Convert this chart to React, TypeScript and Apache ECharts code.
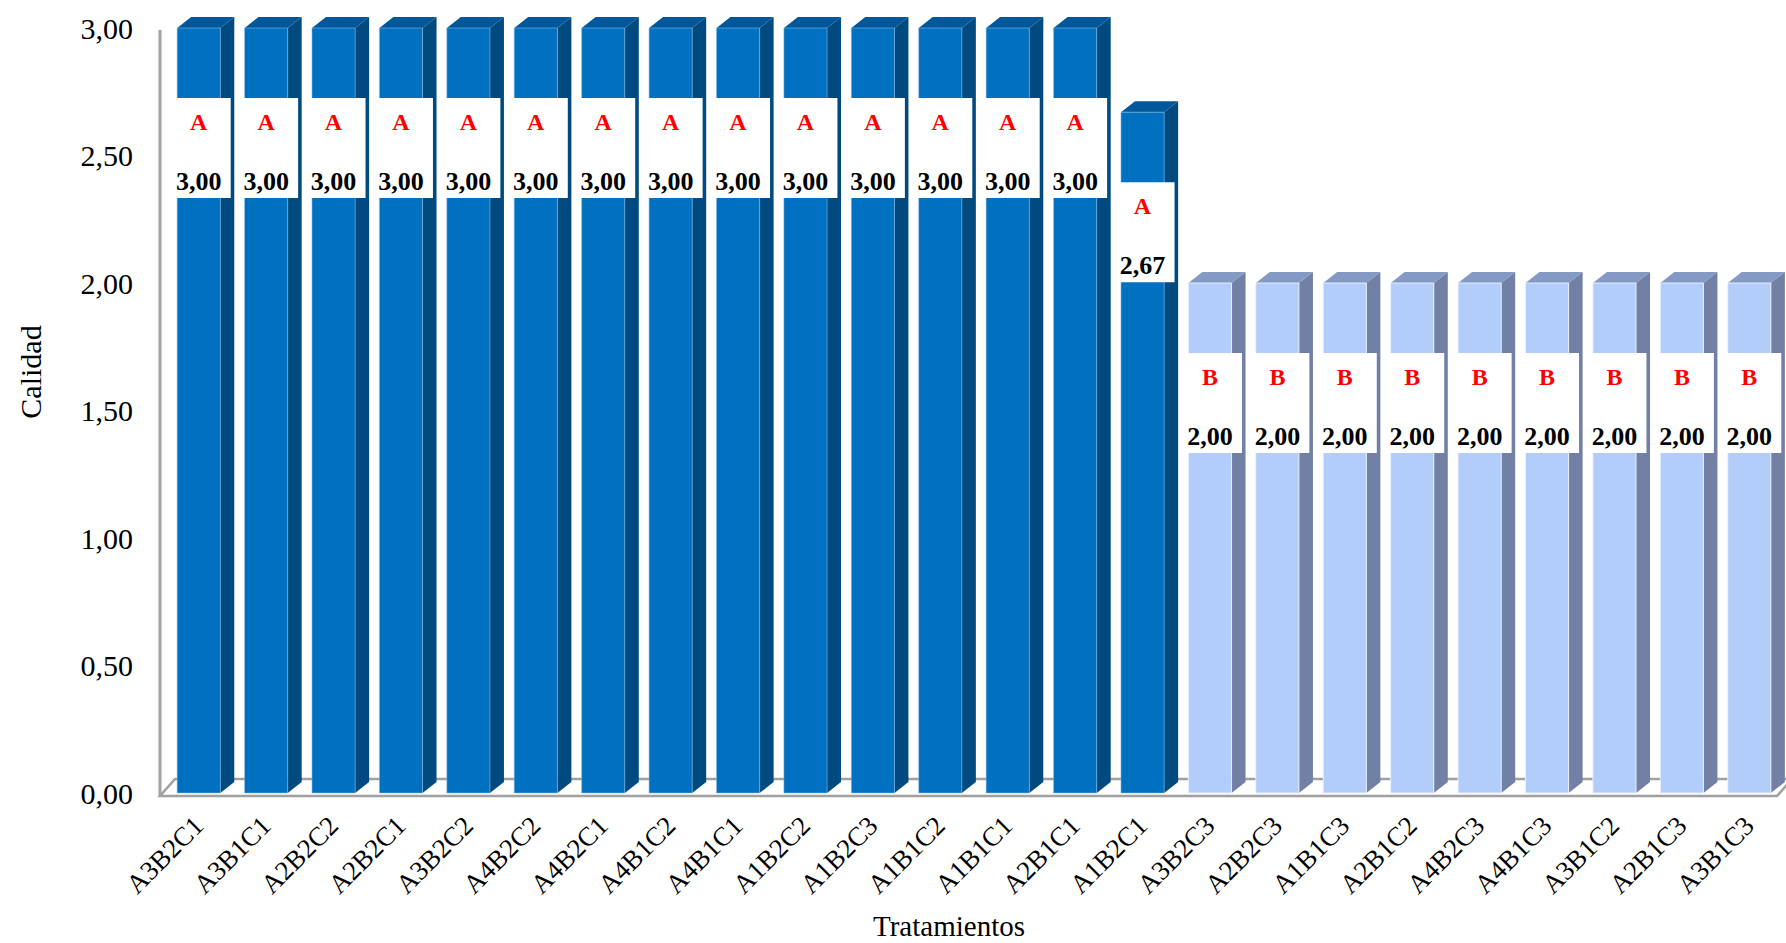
import React, { useEffect, useRef } from "react";
import * as echarts from "echarts";

// Tratamientos (orden de la gráfica)
const categories = [
  "A3B2C1", "A3B1C1", "A2B2C2", "A2B2C1", "A3B2C2", "A4B2C2", "A4B2C1", "A4B1C2",
  "A4B1C1", "A1B2C2", "A1B2C3", "A1B1C2", "A1B1C1", "A2B1C1", "A1B2C1", "A3B2C3",
  "A2B2C3", "A1B1C3", "A2B1C2", "A4B2C3", "A4B1C3", "A3B1C2", "A2B1C3", "A3B1C3",
];

// Calidad media por tratamiento
const values = [
  3.0, 3.0, 3.0, 3.0, 3.0, 3.0, 3.0, 3.0, 3.0, 3.0, 3.0, 3.0, 3.0, 3.0, 2.67,
  2.0, 2.0, 2.0, 2.0, 2.0, 2.0, 2.0, 2.0, 2.0,
];

// Grupos de significancia (Tukey)
const groups = [
  "A", "A", "A", "A", "A", "A", "A", "A", "A", "A", "A", "A", "A", "A", "A",
  "B", "B", "B", "B", "B", "B", "B", "B", "B",
];

const yTicks = [0, 0.5, 1, 1.5, 2, 2.5, 3];

const SERIF = "'Liberation Serif', 'Times New Roman', serif";

const palette: Record<string, { front: string; side: string; top: string; edge: string }> = {
  A: { front: "#0070C0", side: "#004A80", top: "#00589A", edge: "rgba(140,190,235,0.55)" },
  B: { front: "#B3CDFB", side: "#7180A4", top: "#8499C4", edge: "rgba(235,242,255,0.9)" },
};

const fmt = (v: number) => v.toFixed(2).replace(".", ",");

export default function App() {
  const ref = useRef<HTMLDivElement>(null);

  useEffect(() => {
    document.body.style.margin = "0";
    if (!ref.current) return;
    const chart = echarts.init(ref.current, null, { renderer: "svg" });

    const DX = 14;
    const DY = -11;

    const barData = categories.map((c, i) => [i, values[i], groups[i]]);

    const option: any = {
      animation: false,
      backgroundColor: "#ffffff",
      grid: { left: 165, right: 3, top: 28, bottom: 150, containLabel: false },
      xAxis: {
        type: "category",
        data: categories,
        axisLine: { show: false },
        axisTick: { show: false },
        axisLabel: {
          rotate: 45,
          margin: 28,
          interval: 0,
          fontFamily: SERIF,
          fontSize: 27,
          color: "#000",
        },
      },
      yAxis: {
        type: "value",
        min: 0,
        max: yTicks[yTicks.length - 1],
        interval: 0.5,
        splitLine: { show: false },
        axisLine: { show: false },
        axisTick: { show: false },
        axisLabel: {
          margin: 32,
          fontFamily: SERIF,
          fontSize: 30,
          color: "#000",
          formatter: (v: number) => fmt(v),
        },
      },
      graphic: [
        {
          type: "text",
          x: 30,
          y: 372,
          rotation: Math.PI / 2,
          style: {
            text: "Calidad",
            fontFamily: SERIF,
            fontSize: 30,
            fill: "#000",
            align: "center",
            verticalAlign: "middle",
          },
        },
        {
          type: "text",
          x: 949,
          y: 926,
          style: {
            text: "Tratamientos",
            fontFamily: SERIF,
            fontSize: 29,
            fill: "#000",
            align: "center",
            verticalAlign: "middle",
          },
        },
      ],
      series: [
        {
          // piso y eje vertical del gráfico 3D
          type: "custom",
          z: 1,
          silent: true,
          data: [[0, 0]],
          renderItem: (params: any, api: any) => {
            const cs = params.coordSys;
            const base = api.coord([0, 0])[1];
            const left = cs.x - 5;
            const right = cs.x + cs.width - 6;
            const front = base + 3;
            const back = base - 14;
            const stroke = "#A0A0A0";
            return {
              type: "group",
              children: [
                {
                  type: "polygon",
                  shape: {
                    points: [
                      [left, front],
                      [right, front],
                      [right + 15, back],
                      [left + 15, back],
                    ],
                  },
                  style: { fill: "#ffffff", stroke, lineWidth: 2.5 },
                },
                {
                  type: "line",
                  shape: { x1: left, y1: cs.y + 2, x2: left, y2: front },
                  style: { stroke, lineWidth: 3 },
                },
              ],
            };
          },
        },
        {
          type: "custom",
          z: 2,
          data: barData,
          encode: { x: 0, y: 1 },
          renderItem: (params: any, api: any) => {
            const i = api.value(0);
            const v = api.value(1);
            const g = groups[i];
            const col = palette[g];
            const top = api.coord([i, v]);
            const base = api.coord([i, 0]);
            const band = api.size([1, 0])[0];
            const fw = band * 0.64;
            const cx = top[0];
            const x0 = cx - fw / 2;
            const x1 = x0 + fw;
            const yt = top[1];
            const yb = base[1];
            const boxW = 60;
            const boxTop = yt + 70;
            return {
              type: "group",
              children: [
                {
                  type: "polygon",
                  shape: {
                    points: [
                      [x1, yt],
                      [x1 + DX, yt + DY],
                      [x1 + DX, yb + DY],
                      [x1, yb],
                    ],
                  },
                  style: { fill: col.side },
                },
                {
                  type: "polygon",
                  shape: {
                    points: [
                      [x0, yt],
                      [x0 + DX, yt + DY],
                      [x1 + DX, yt + DY],
                      [x1, yt],
                    ],
                  },
                  style: { fill: col.top },
                },
                {
                  type: "rect",
                  shape: { x: x0, y: yt, width: fw, height: yb - yt },
                  style: { fill: col.front, stroke: col.edge, lineWidth: 1 },
                },
                {
                  type: "rect",
                  shape: { x: cx - boxW / 2 + 2, y: boxTop, width: boxW, height: 100 },
                  style: { fill: "#ffffff" },
                },
                {
                  type: "text",
                  x: cx,
                  y: boxTop + 24,
                  style: {
                    text: g,
                    fontFamily: SERIF,
                    fontWeight: "bold",
                    fontSize: 24,
                    fill: "#FF0000",
                    align: "center",
                    verticalAlign: "middle",
                  },
                },
                {
                  type: "text",
                  x: cx,
                  y: boxTop + 83,
                  style: {
                    text: fmt(v),
                    fontFamily: SERIF,
                    fontWeight: "bold",
                    fontSize: 26,
                    fill: "#000000",
                    align: "center",
                    verticalAlign: "middle",
                  },
                },
              ],
            };
          },
        },
      ],
    };

    chart.setOption(option);
    return () => chart.dispose();
  }, []);

  return <div ref={ref} style={{ width: 1786, height: 943 }} />;
}
